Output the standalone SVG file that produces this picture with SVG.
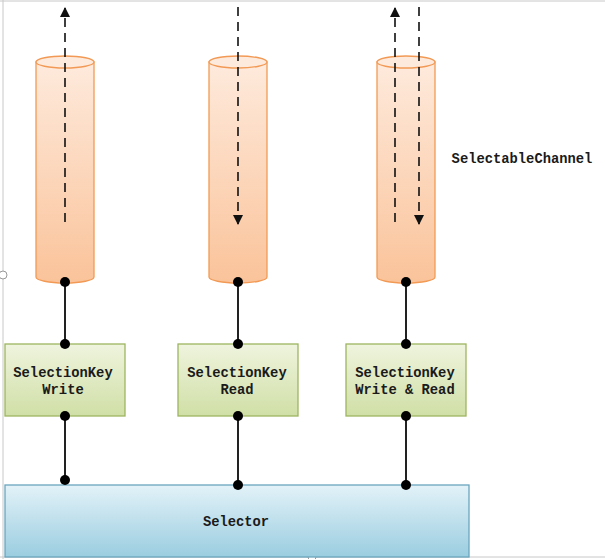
<svg xmlns="http://www.w3.org/2000/svg" width="605" height="559" viewBox="0 0 605 559">
<defs>
<linearGradient id="gCyl" x1="0" y1="0" x2="0" y2="1">
<stop offset="0" stop-color="#feeadc"/>
<stop offset="1" stop-color="#fac39a"/>
</linearGradient>
<linearGradient id="gKey" x1="0" y1="0" x2="0" y2="1">
<stop offset="0" stop-color="#eff4de"/>
<stop offset="1" stop-color="#d0dfa6"/>
</linearGradient>
<linearGradient id="gSel" x1="0" y1="0" x2="0" y2="1">
<stop offset="0" stop-color="#e3f2f8"/>
<stop offset="1" stop-color="#9acde0"/>
</linearGradient>
<marker id="arr" viewBox="0 0 10 10" refX="9" refY="5" markerWidth="10" markerHeight="10" markerUnits="userSpaceOnUse" orient="auto">
<path d="M0,0 L10,5 L0,10 z" fill="#111"/>
</marker>
</defs>
<style>
.cyl{fill:url(#gCyl);stroke:#f29a55;stroke-width:1.3}
.cyltop{fill:#fdeadc;stroke:#f29a55;stroke-width:1.3}
.key{fill:url(#gKey);stroke:#9db560;stroke-width:1.3}
.sel{fill:url(#gSel);stroke:#6aa5bd;stroke-width:1.3}
.flow{stroke:#111;stroke-width:1.6;stroke-dasharray:9,6;fill:none}
.link{stroke:#222;stroke-width:2;fill:none}
.dot{fill:#000}
.t{font-family:"Liberation Mono","DejaVu Sans Mono",monospace;font-weight:bold;font-size:13.8px;fill:#1a1a1a;text-anchor:middle}
.frame{stroke:#c8c8c8;stroke-width:1;fill:none}
</style>
<rect width="605" height="559" fill="#fff"/>
<g id="frame">
<line class="frame" x1="3" y1="0" x2="3" y2="559"/>
<line class="frame" x1="0" y1="1" x2="605" y2="1"/>
<line class="frame" x1="0" y1="557" x2="605" y2="557"/>
<circle cx="3" cy="275" r="4" fill="#fff" stroke="#999"/>
<circle cx="312" cy="557" r="4" fill="#fff" stroke="#999"/>
</g>
<g id="channel1">
<path class="cyl" d="M36,62 L36,277 A29,6 0 0 0 94,277 L94,62 Z"/>
<ellipse class="cyltop" cx="65" cy="62" rx="29" ry="6"/>
</g>
<g id="channel2">
<path class="cyl" d="M209,62 L209,277 A29,6 0 0 0 267,277 L267,62 Z"/>
<ellipse class="cyltop" cx="238" cy="62" rx="29" ry="6"/>
</g>
<g id="channel3">
<path class="cyl" d="M377,62 L377,277 A29,6 0 0 0 435,277 L435,62 Z"/>
<ellipse class="cyltop" cx="406" cy="62" rx="29" ry="6"/>
</g>
<g id="label-selectablechannel">
<text class="t" x="522" y="163">SelectableChannel</text>
</g>
<g id="key-write">
<rect class="key" x="5" y="344" width="120" height="72"/>
<text class="t" x="63" y="377">SelectionKey</text>
<text class="t" x="63" y="394">Write</text>
</g>
<g id="key-read">
<rect class="key" x="178" y="344" width="120" height="72"/>
<text class="t" x="237" y="377">SelectionKey</text>
<text class="t" x="237" y="394">Read</text>
</g>
<g id="key-writeread">
<rect class="key" x="346" y="344" width="120" height="72"/>
<text class="t" x="405" y="377">SelectionKey</text>
<text class="t" x="405" y="394">Write &amp; Read</text>
</g>
<g id="selector">
<rect class="sel" x="5" y="485" width="464" height="72"/>
<text class="t" x="236" y="526">Selector</text>
</g>
<g id="connectors">
<line class="flow" x1="65" y1="222" x2="65" y2="8" marker-end="url(#arr)"/>
<line class="flow" x1="238" y1="7" x2="238" y2="224" marker-end="url(#arr)"/>
<line class="flow" x1="395" y1="222" x2="395" y2="8" marker-end="url(#arr)"/>
<line class="flow" x1="419" y1="7" x2="419" y2="224" marker-end="url(#arr)"/>
<line class="link" x1="65" y1="282" x2="65" y2="344"/>
<line class="link" x1="238" y1="282" x2="238" y2="344"/>
<line class="link" x1="406" y1="282" x2="406" y2="344"/>
<line class="link" x1="65" y1="416" x2="65" y2="480"/>
<line class="link" x1="238" y1="416" x2="238" y2="485"/>
<line class="link" x1="406" y1="416" x2="406" y2="485"/>
<circle class="dot" cx="65" cy="282" r="5"/>
<circle class="dot" cx="238" cy="282" r="5"/>
<circle class="dot" cx="406" cy="282" r="5"/>
<circle class="dot" cx="65" cy="344" r="5"/>
<circle class="dot" cx="238" cy="344" r="5"/>
<circle class="dot" cx="406" cy="344" r="5"/>
<circle class="dot" cx="65" cy="416" r="5"/>
<circle class="dot" cx="238" cy="416" r="5"/>
<circle class="dot" cx="406" cy="416" r="5"/>
<circle class="dot" cx="65" cy="480" r="5"/>
<circle class="dot" cx="238" cy="485" r="5"/>
<circle class="dot" cx="406" cy="485" r="5"/>
</g>
</svg>
